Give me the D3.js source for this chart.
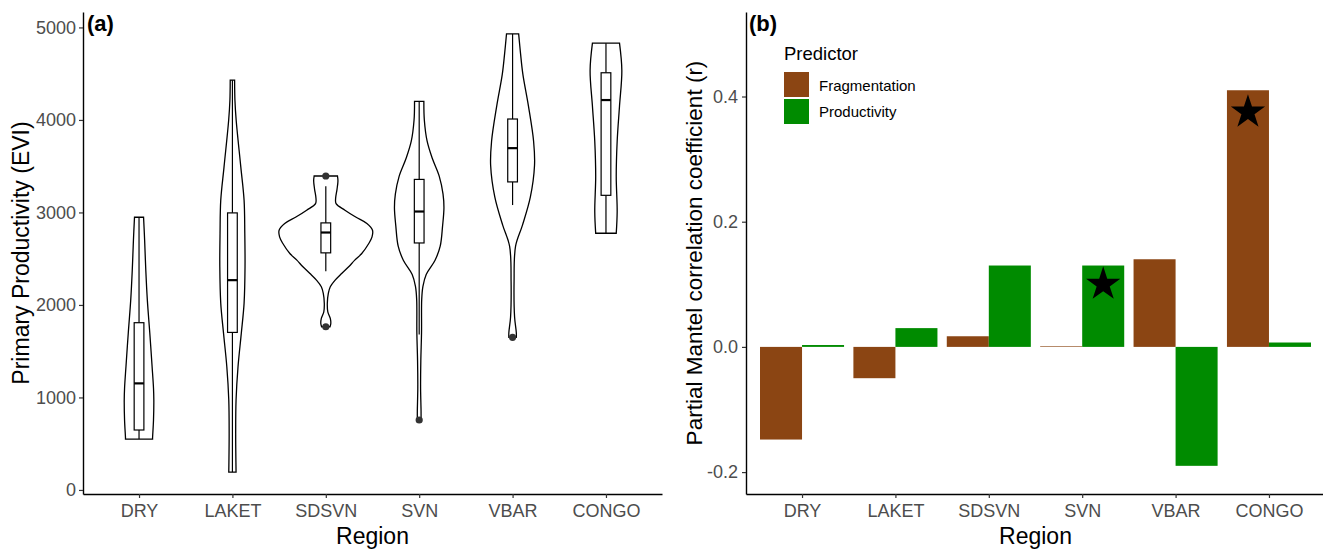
<!DOCTYPE html>
<html>
<head>
<meta charset="utf-8">
<script src="https://cdn.jsdelivr.net/npm/d3@7"></script>
<style>
body { margin: 0; background: #fff; }
svg text { font-family: "Liberation Sans", Arial, sans-serif; }
</style>
</head>
<body>
<svg id="chart" width="1323" height="552"></svg>
<script>
// ---- data ----
var regions = ["DRY", "LAKET", "SDSVN", "SVN", "VBAR", "CONGO"];

// panel (a) violin outlines: [EVI, relative density width]
var violinDRY   = [[2948,0.097],[2700,0.12],[2376,0.145],[2052,0.178],[1700,0.23],[1332,0.28],[1100,0.31],[972,0.317],[756,0.31],[562,0.29],[550,0.29]];
var violinLAKET = [[4430,0.047],[4210,0.054],[4000,0.08],[3490,0.18],[3130,0.25],[2775,0.265],[2412,0.27],[2020,0.25],[1692,0.19],[1332,0.12],[972,0.078],[612,0.07],[300,0.075],[193,0.078]];
var violinSDSVN = [[3394,0.25],[3340,0.26],[3250,0.24],[3150,0.21],[3095,0.22],[3024,0.41],[2950,0.64],[2880,0.88],[2808,1.0],[2736,0.99],[2664,0.92],[2556,0.77],[2484,0.62],[2412,0.49],[2340,0.34],[2268,0.2],[2196,0.096],[2124,0.054],[2016,0.032],[1926,0.043],[1854,0.096],[1800,0.107],[1764,0.09]];
var violinSVN   = [[4200,0.1],[4000,0.11],[3770,0.17],[3585,0.28],[3390,0.43],[3200,0.51],[3050,0.53],[2850,0.5],[2635,0.45],[2484,0.34],[2330,0.15],[2200,0.08],[2060,0.054],[1700,0.05],[1400,0.035],[1100,0.03],[850,0.04],[756,0.04]];
var violinVBAR  = [[4930,0.13],[4720,0.17],[4495,0.22],[4150,0.34],[3770,0.45],[3510,0.47],[3165,0.38],[2860,0.21],[2635,0.064],[2255,0.032],[1870,0.043],[1700,0.08],[1650,0.08]];
var violinCONGO = [[4830,0.29],[4535,0.34],[4150,0.29],[3770,0.24],[3390,0.22],[3010,0.24],[2775,0.22]];

// box plot stats
var whiskerLow  = [550, 193, 2365, 1680, 3080, 2775];
var q1          = [648, 1703, 2563, 2670, 3330, 3185];
var median      = [1152, 2268, 2783, 3010, 3695, 4215];
var q3          = [1808, 2995, 2887, 3357, 4010, 4510];
var whiskerHigh = [2948, 4430, 3283, 4200, 4930, 4830];
var outliers    = [[], [], [3394, 1764], [756], [1650], []];

// panel (b) partial Mantel r
var predictors    = ["Fragmentation", "Productivity"];
var fragmentation = [-0.148, -0.05, 0.017, 0.001, 0.14, 0.41];
var productivity  = [0.003, 0.03, 0.13, 0.13, -0.19, 0.007];
var starMarks     = [["SVN", "Productivity", 0.10], ["CONGO", "Fragmentation", 0.375]];
var predColors    = ["#8B4513", "#008B00"];

var yTicksA = [0, 1000, 2000, 3000, 4000, 5000];
var yTicksB = [-0.2, 0.0, 0.2, 0.4];

var violins = [violinDRY, violinLAKET, violinSDSVN, violinSVN, violinVBAR, violinCONGO];

// ---- layout ----
var svg = d3.select("#chart");
var plotTop = 12, plotBottom = 494;

// ===== panel (a) =====
var xa = d3.scalePoint().domain(regions).range([83, 662]).padding(0.6);
var ya = d3.scaleLinear().domain([-43.85, 5166.85]).range([plotBottom, plotTop]);
var wa = d3.scaleLinear().domain([0, 1]).range([0, xa.step() / 2]);
var boxHalf = xa.step() * 0.052;

var pa = svg.append("g");

regions.forEach(function(r, i) {
    var cx = xa(r);

    var area = d3.area()
                 .y(d => ya(d[0]))
                 .x0(d => cx - wa(d[1]))
                 .x1(d => cx + wa(d[1]))
                 .curve(d3.curveCatmullRom);

    pa.append("path")
      .datum(violins[i])
      .attr("d", area)
      .attr("fill", "white")
      .attr("stroke", "black")
      .attr("stroke-width", 1.3);

    // whiskers
    pa.append("line")
      .attr("x1", cx).attr("x2", cx)
      .attr("y1", ya(whiskerHigh[i])).attr("y2", ya(q3[i]))
      .attr("stroke", "black").attr("stroke-width", 1.2);
    pa.append("line")
      .attr("x1", cx).attr("x2", cx)
      .attr("y1", ya(q1[i])).attr("y2", ya(whiskerLow[i]))
      .attr("stroke", "black").attr("stroke-width", 1.2);

    // box
    pa.append("rect")
      .attr("x", cx - boxHalf)
      .attr("width", boxHalf * 2)
      .attr("y", ya(q3[i]))
      .attr("height", ya(q1[i]) - ya(q3[i]))
      .attr("fill", "white")
      .attr("stroke", "black")
      .attr("stroke-width", 1.2);

    pa.append("line")
      .attr("x1", cx - boxHalf).attr("x2", cx + boxHalf)
      .attr("y1", ya(median[i])).attr("y2", ya(median[i]))
      .attr("stroke", "black").attr("stroke-width", 2.2);

    pa.selectAll(null)
      .data(outliers[i])
      .enter()
      .append("circle")
      .attr("cx", cx)
      .attr("cy", d => ya(d))
      .attr("r", 3.6)
      .attr("fill", "#333");
});

// axes (a)
pa.append("g")
  .attr("transform", "translate(0," + plotBottom + ")")
  .call(d3.axisBottom(xa).tickSize(4).tickPadding(6).tickSizeOuter(0));
pa.append("g")
  .attr("transform", "translate(83,0)")
  .call(d3.axisLeft(ya).tickValues(yTicksA).tickFormat(d3.format("d")).tickSize(4).tickPadding(3).tickSizeOuter(0));

// ===== panel (b) =====
var xb = d3.scalePoint().domain(regions).range([746, 1325]).padding(0.6);
var yb = d3.scaleLinear().domain([-0.235, 0.535]).range([plotBottom, plotTop]);
var xsub = d3.scaleBand().domain(predictors).range([-xb.step() * 0.45, xb.step() * 0.45]);

var pb = svg.append("g");

var barData = [];
regions.forEach(function(r, i) {
    barData.push({region: r, pred: predictors[0], value: fragmentation[i]});
    barData.push({region: r, pred: predictors[1], value: productivity[i]});
});

pb.selectAll(".bar")
  .data(barData)
  .enter()
  .append("rect")
  .attr("class", "bar")
  .attr("x", d => xb(d.region) + xsub(d.pred))
  .attr("width", xsub.bandwidth())
  .attr("y", d => yb(Math.max(0, d.value)))
  .attr("height", d => Math.abs(yb(d.value) - yb(0)))
  .attr("fill", d => predColors[predictors.indexOf(d.pred)]);

pb.selectAll(".star")
  .data(starMarks)
  .enter()
  .append("path")
  .attr("class", "star")
  .attr("d", d3.symbol().type(d3.symbolStar).size(364))
  .attr("transform", d => "translate(" + (xb(d[0]) + xsub(d[1]) + xsub.bandwidth() / 2) + "," + yb(d[2]) + ")")
  .attr("fill", "black");

pb.append("g")
  .attr("transform", "translate(0," + plotBottom + ")")
  .call(d3.axisBottom(xb).tickSize(4).tickPadding(6).tickSizeOuter(0));
pb.append("g")
  .attr("transform", "translate(746,0)")
  .call(d3.axisLeft(yb).tickValues(yTicksB).tickFormat(d => d.toFixed(1)).tickSize(4).tickPadding(4).tickSizeOuter(0));

// axis styling, ggplot theme_classic look
svg.selectAll(".domain").attr("stroke", "black").attr("stroke-width", 1.4);
svg.selectAll(".tick line").attr("stroke", "#333").attr("stroke-width", 1.2);
svg.selectAll(".tick text").attr("font-size", "18px").attr("fill", "#4D4D4D")
   .style("font-family", "'Liberation Sans', Arial, sans-serif");

// titles
svg.append("text").attr("x", xa(regions[0]) + (xa(regions[5]) - xa(regions[0])) / 2).attr("y", 544)
   .attr("text-anchor", "middle").attr("font-size", "23px").text("Region");
svg.append("text").attr("x", xb(regions[0]) + (xb(regions[5]) - xb(regions[0])) / 2).attr("y", 544)
   .attr("text-anchor", "middle").attr("font-size", "23px").text("Region");

svg.append("text")
   .attr("transform", "translate(29," + (plotTop + plotBottom) / 2 + ") rotate(-90)")
   .attr("text-anchor", "middle").attr("font-size", "23px")
   .text("Primary Productivity (EVI)");
svg.append("text")
   .attr("transform", "translate(702," + (plotTop + plotBottom) / 2 + ") rotate(-90)")
   .attr("text-anchor", "middle").attr("font-size", "22.5px")
   .text("Partial Mantel correlation coefficient (r)");

// panel tags
svg.append("text").attr("x", 87).attr("y", 31).attr("font-size", "22px").attr("font-weight", "bold").text("(a)");
svg.append("text").attr("x", 749).attr("y", 31).attr("font-size", "22px").attr("font-weight", "bold").text("(b)");

// legend
var lg = svg.append("g").attr("transform", "translate(784,0)");
lg.append("text").attr("x", 0).attr("y", 60).attr("font-size", "18.5px").text("Predictor");
predictors.forEach(function(p, i) {
    lg.append("rect")
      .attr("x", 0).attr("y", 72 + i * 27)
      .attr("width", 25).attr("height", 25)
      .attr("fill", predColors[i]);
    lg.append("text")
      .attr("x", 35).attr("y", 90.5 + i * 26)
      .attr("font-size", "15px")
      .text(p);
});
</script>
</body>
</html>
